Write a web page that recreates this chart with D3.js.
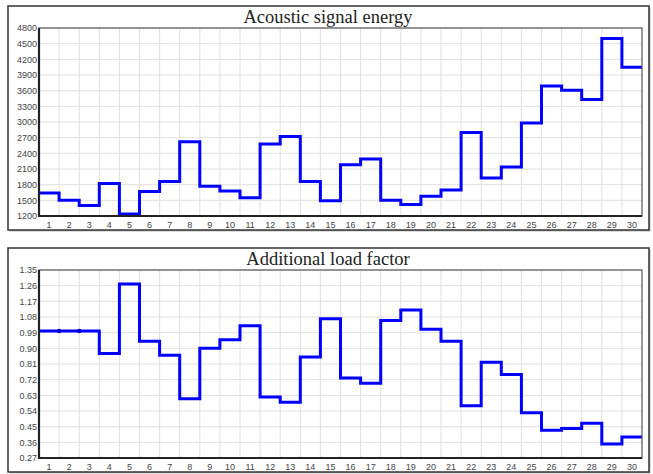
<!DOCTYPE html>
<html>
<head>
<meta charset="utf-8">
<script src="https://cdn.jsdelivr.net/npm/d3@7"></script>
<style>
body { margin: 0; background: #fff; }
svg { display: block; }
.tick text { font-family: "Liberation Sans", Arial, sans-serif; font-size: 9px; fill: #444; }
</style>
</head>
<body>
<svg id="chart" width="653" height="474"></svg>
<script>
// data
var bins = d3.range(1, 31);
var energy = [1640, 1500, 1400, 1820, 1240, 1670, 1860, 2620, 1770, 1680,
    1550, 2580, 2720, 1860, 1490, 2180, 2290, 1500, 1420, 1580,
    1700, 2800, 1930, 2140, 2980, 3690, 3610, 3430, 4600, 4050];
var loadFactor = [1.00, 1.00, 1.00, 0.87, 1.27, 0.94, 0.86, 0.61, 0.90, 0.95,
    1.03, 0.62, 0.59, 0.85, 1.07, 0.73, 0.70, 1.06, 1.12, 1.01,
    0.94, 0.57, 0.82, 0.75, 0.53, 0.43, 0.44, 0.47, 0.35, 0.39];
var energyTicks = d3.range(1200, 4801, 300);
var loadTicks = [0.27, 0.36, 0.45, 0.54, 0.63, 0.72, 0.81, 0.90, 0.99, 1.08, 1.17, 1.26, 1.35];

var svg = d3.select("#chart");

function drawPanel(top, title, values, yTicks, yDomain, fmt) {
    var frame = {x: 8, y: top, w: 641, h: 224};
    var plot = {left: 39, right: 642, top: top + 22, bottom: top + 210};

    var g = svg.append("g");

    // outer frame
    g.append("rect")
        .attr("x", frame.x + 1.5).attr("y", frame.y + 1.5)
        .attr("width", frame.w).attr("height", frame.h)
        .attr("fill", "#bbb");
    g.append("rect")
        .attr("x", frame.x).attr("y", frame.y)
        .attr("width", frame.w).attr("height", frame.h)
        .attr("fill", "#fff").attr("stroke", "#333").attr("stroke-width", 1.5);

    g.append("text")
        .attr("x", 328)
        .attr("y", top + 17)
        .attr("text-anchor", "middle")
        .style("font-family", "'Liberation Serif', 'Times New Roman', serif")
        .style("font-size", "18.5px")
        .style("fill", "#222")
        .text(title);

    var x = d3.scaleLinear().domain([0, 30]).range([plot.left, plot.right]);
    var y = d3.scaleLinear().domain(yDomain).range([plot.bottom, plot.top]);

    // grid
    g.append("g")
        .selectAll("line.h")
        .data(yTicks)
        .join("line")
        .attr("x1", plot.left).attr("x2", plot.right)
        .attr("y1", function (d) { return y(d); })
        .attr("y2", function (d) { return y(d); })
        .attr("stroke", "#e0e0e0").attr("stroke-width", 1);
    g.append("g")
        .selectAll("line.v")
        .data(d3.range(1, 30))
        .join("line")
        .attr("x1", function (d) { return x(d); })
        .attr("x2", function (d) { return x(d); })
        .attr("y1", plot.top).attr("y2", plot.bottom)
        .attr("stroke", "#e0e0e0").attr("stroke-width", 1);

    // axes
    var yAxis = d3.axisLeft(y).tickValues(yTicks).tickFormat(fmt).tickSize(0).tickPadding(2);
    var ya = g.append("g")
        .attr("transform", "translate(" + plot.left + ",0)")
        .call(yAxis);
    ya.select(".domain").remove();

    var xb = d3.scaleBand().domain(bins).range([plot.left, plot.right]);
    var xAxis = d3.axisBottom(xb).tickSize(0).tickPadding(6);
    var xa = g.append("g")
        .attr("transform", "translate(0," + plot.bottom + ")")
        .call(xAxis);
    xa.select(".domain").remove();

    // step line
    var pts = values.map(function (v, i) { return [i, v]; });
    pts.push([30, values[values.length - 1]]);
    var line = d3.line()
        .x(function (d) { return x(d[0]); })
        .y(function (d) { return y(d[1]); })
        .curve(d3.curveStepAfter);
    g.append("path")
        .datum(pts)
        .attr("d", line)
        .attr("fill", "none")
        .attr("stroke", "#0000ff")
        .attr("stroke-width", 3)
        .attr("stroke-linejoin", "miter");

    // joints where the level does not change
    var joints = values.map(function (v, i) { return [i, v]; }).filter(function (d) {
        return d[0] > 0 && values[d[0] - 1] === d[1];
    });
    g.append("g")
        .selectAll("circle")
        .data(joints)
        .join("circle")
        .attr("cx", function (d) { return x(d[0]); })
        .attr("cy", function (d) { return y(d[1]); })
        .attr("r", 2.2)
        .attr("fill", "#0000cc");

    // plot border
    g.append("rect")
        .attr("x", plot.left).attr("y", plot.top)
        .attr("width", plot.right - plot.left).attr("height", plot.bottom - plot.top)
        .attr("fill", "none").attr("stroke", "#555").attr("stroke-width", 1.2);
    g.append("path")
        .attr("d", "M" + plot.left + "," + plot.top + "V" + plot.bottom + "H" + plot.right)
        .attr("fill", "none").attr("stroke", "#222").attr("stroke-width", 2.2);
}

drawPanel(6, "Acoustic signal energy", energy, energyTicks, [1200, 4800], d3.format("d"));
drawPanel(248, "Additional load factor", loadFactor, loadTicks, [0.27, 1.35], d3.format(".2f"));
</script>
</body>
</html>
